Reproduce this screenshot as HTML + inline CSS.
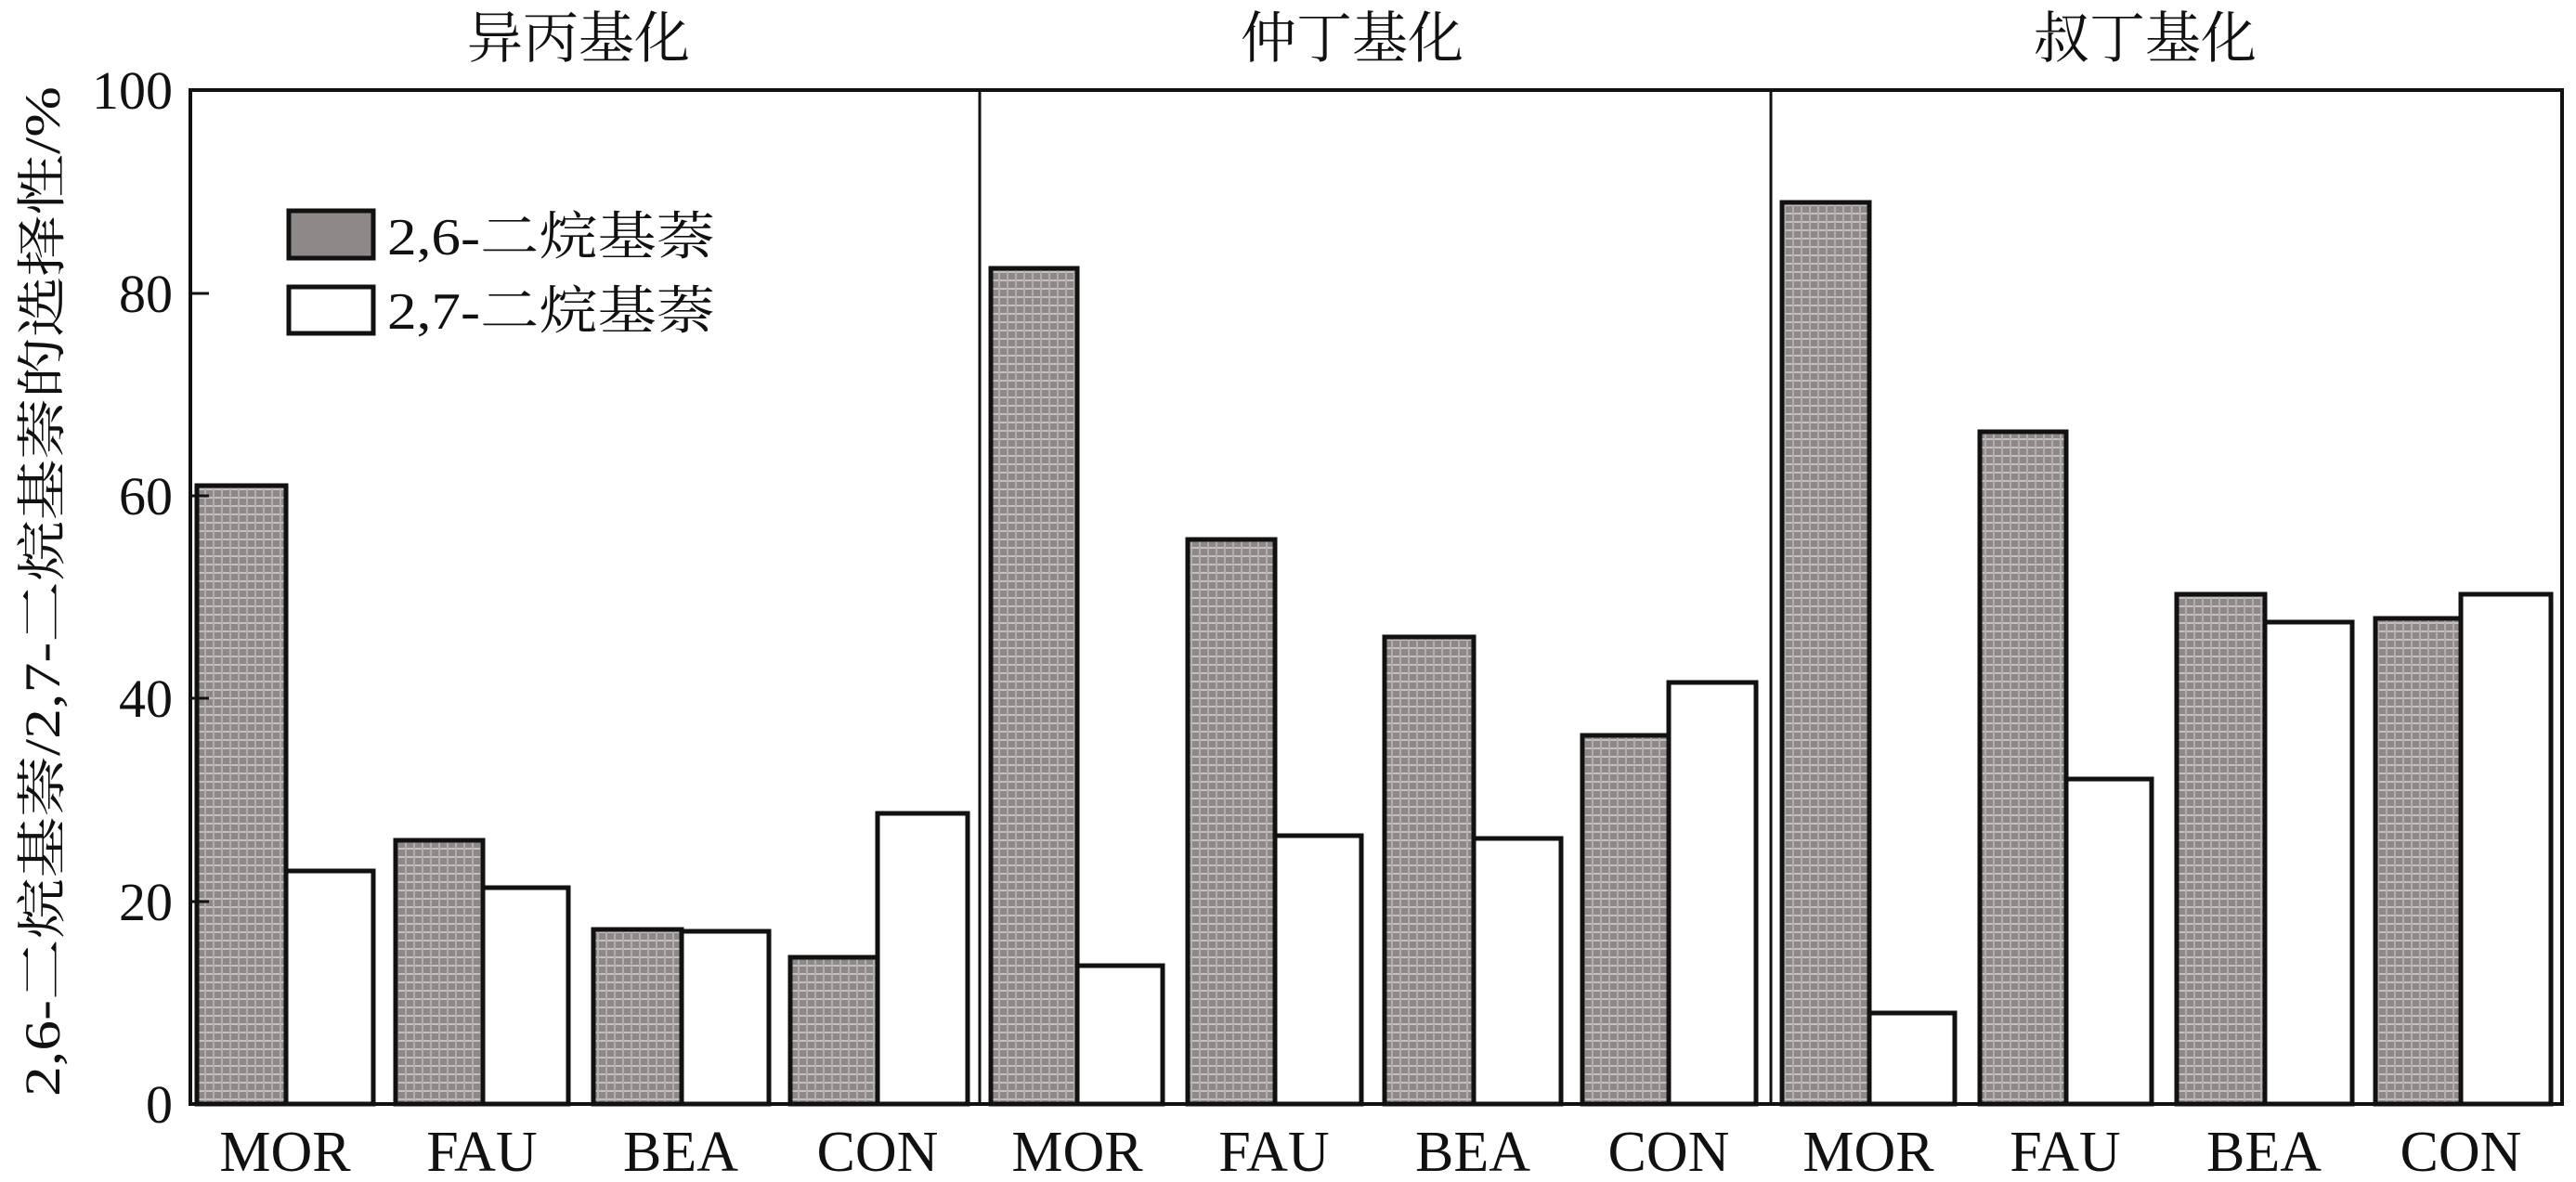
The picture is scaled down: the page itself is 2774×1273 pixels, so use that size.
<!DOCTYPE html>
<html><head><meta charset="utf-8"><style>body{margin:0;background:#fff}svg{display:block}</style></head><body>
<svg width="2774" height="1273" viewBox="0 0 2774 1273" xmlns="http://www.w3.org/2000/svg">
<defs>
<pattern id="p" width="9" height="9" patternUnits="userSpaceOnUse">
<rect width="9" height="9" fill="#8e8989"/>
<rect x="0" y="4" width="9" height="2" fill="#c4c0c0"/>
<rect x="4" y="0" width="2" height="9" fill="#b3afaf"/>
</pattern>
</defs>
<g font-family="'Liberation Serif','Noto Serif CJK SC',serif" fill="#111">
<text x="623" y="62" font-size="60" text-anchor="middle">异丙基化</text>
<text x="1456" y="62" font-size="60" text-anchor="middle">仲丁基化</text>
<text x="2310" y="62" font-size="60" text-anchor="middle">叔丁基化</text>
</g>
<g stroke="#111" stroke-width="5">
<rect x="212" y="523" width="96" height="666" fill="url(#p)"/>
<rect x="308" y="938" width="94" height="251" fill="#fff"/>
<rect x="426" y="905" width="94" height="284" fill="url(#p)"/>
<rect x="520" y="956" width="92" height="233" fill="#fff"/>
<rect x="639" y="1001" width="95" height="188" fill="url(#p)"/>
<rect x="734" y="1003" width="94" height="186" fill="#fff"/>
<rect x="851" y="1031" width="94" height="158" fill="url(#p)"/>
<rect x="945" y="876" width="97" height="313" fill="#fff"/>
<rect x="1067" y="289" width="93" height="900" fill="url(#p)"/>
<rect x="1160" y="1040" width="92" height="149" fill="#fff"/>
<rect x="1279" y="581" width="94" height="608" fill="url(#p)"/>
<rect x="1373" y="900" width="93" height="289" fill="#fff"/>
<rect x="1491" y="686" width="96" height="503" fill="url(#p)"/>
<rect x="1587" y="903" width="94" height="286" fill="#fff"/>
<rect x="1704" y="792" width="93" height="397" fill="url(#p)"/>
<rect x="1797" y="735" width="94" height="454" fill="#fff"/>
<rect x="1919" y="218" width="94" height="971" fill="url(#p)"/>
<rect x="2013" y="1091" width="92" height="98" fill="#fff"/>
<rect x="2132" y="465" width="93" height="724" fill="url(#p)"/>
<rect x="2225" y="839" width="92" height="350" fill="#fff"/>
<rect x="2344" y="640" width="95" height="549" fill="url(#p)"/>
<rect x="2439" y="670" width="94" height="519" fill="#fff"/>
<rect x="2558" y="666" width="92" height="523" fill="url(#p)"/>
<rect x="2650" y="640" width="97" height="549" fill="#fff"/>
</g>
<g stroke="#111" fill="none">
<rect x="205" y="97" width="2554" height="1092" stroke-width="4"/>
<line x1="1055" y1="97" x2="1055" y2="1189" stroke-width="3"/>
<line x1="1907" y1="97" x2="1907" y2="1189" stroke-width="3"/>
<g stroke-width="3">
<line x1="205" y1="316" x2="225" y2="316"/>
<line x1="205" y1="534" x2="225" y2="534"/>
<line x1="205" y1="752" x2="225" y2="752"/>
<line x1="205" y1="971" x2="225" y2="971"/>
</g>
</g>
<g font-family="'Liberation Serif',serif" font-size="58" fill="#111" text-anchor="end">
<text x="186" y="117">100</text>
<text x="186" y="336">80</text>
<text x="186" y="554">60</text>
<text x="186" y="772">40</text>
<text x="186" y="991">20</text>
<text x="186" y="1209">0</text>
</g>
<g font-family="'Liberation Serif',serif" font-size="62" fill="#111" text-anchor="middle">
<text x="307" y="1261">MOR</text><text x="519" y="1261">FAU</text><text x="733" y="1261">BEA</text><text x="945" y="1261">CON</text>
<text x="1160" y="1261">MOR</text><text x="1372" y="1261">FAU</text><text x="1586" y="1261">BEA</text><text x="1797" y="1261">CON</text>
<text x="2012" y="1261">MOR</text><text x="2224" y="1261">FAU</text><text x="2438" y="1261">BEA</text><text x="2650" y="1261">CON</text>
</g>
<g stroke="#111" stroke-width="5">
<rect x="311" y="227" width="91" height="51" fill="#8e8989"/>
<rect x="311" y="309" width="91" height="50" fill="#fff"/>
</g>
<g font-family="'Liberation Serif','Noto Serif CJK SC',serif" font-size="56" fill="#111">
<text x="417" y="274" textLength="353" lengthAdjust="spacingAndGlyphs">2,6-二烷基萘</text>
<text x="417" y="354" textLength="353" lengthAdjust="spacingAndGlyphs">2,7-二烷基萘</text>
<text transform="translate(64,637) rotate(-90)" text-anchor="middle" font-size="54" textLength="1088" lengthAdjust="spacingAndGlyphs">2,6-二烷基萘/2,7-二烷基萘的选择性/%</text>
</g>
</svg>
</body></html>
